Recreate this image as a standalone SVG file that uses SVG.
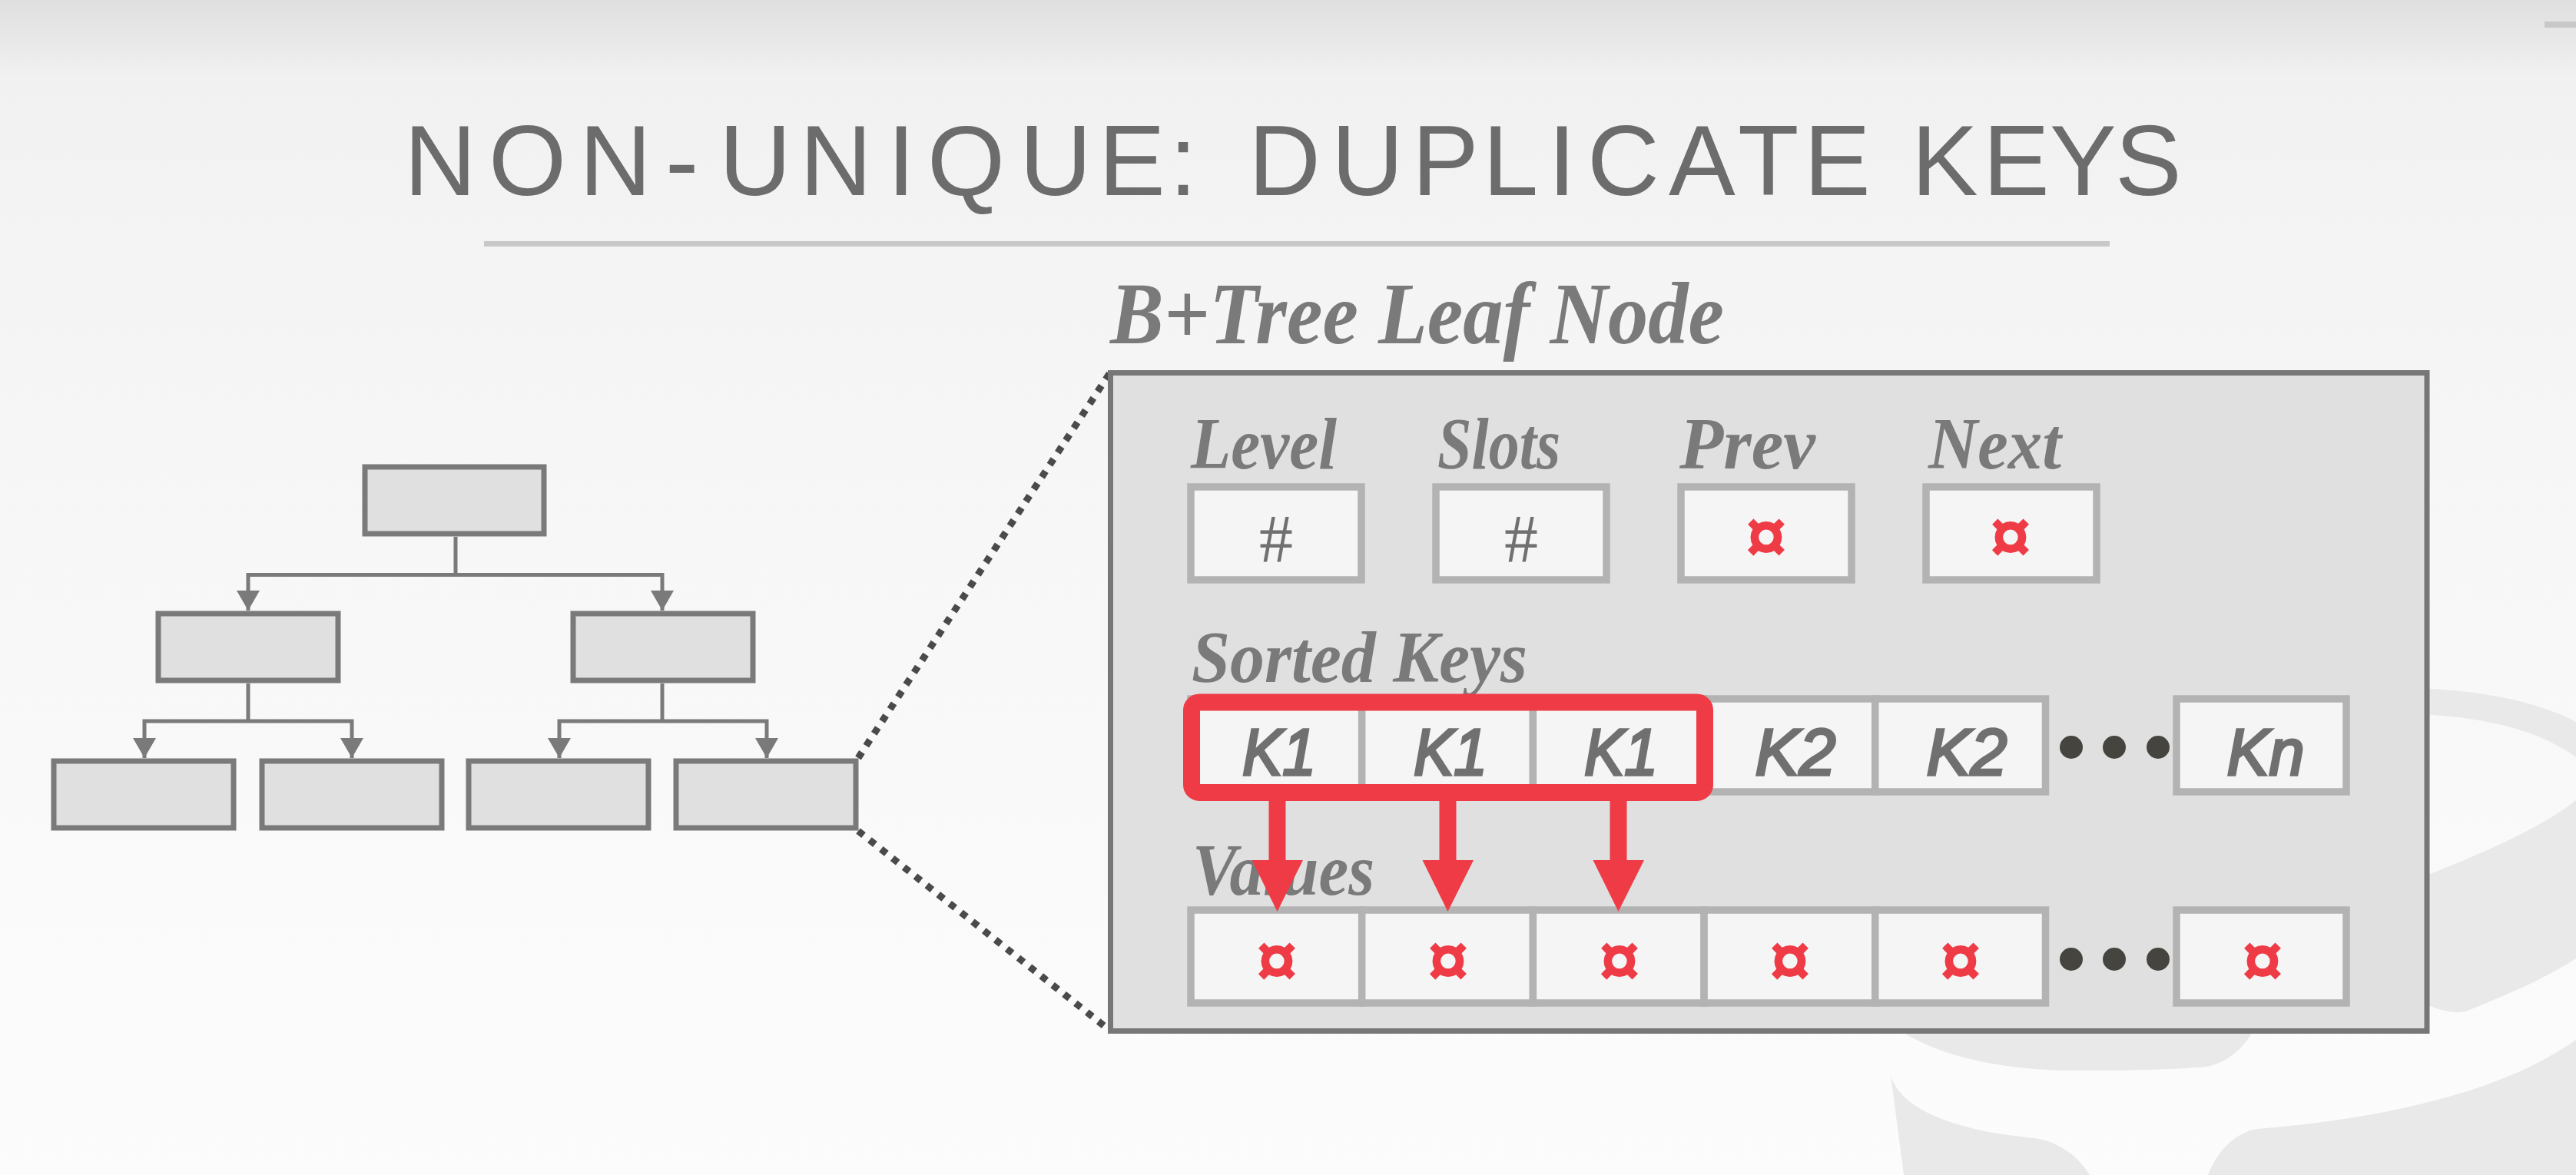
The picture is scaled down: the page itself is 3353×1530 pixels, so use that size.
<svg xmlns="http://www.w3.org/2000/svg" width="3353" height="1530" viewBox="0 0 3353 1530">
  <style>
    .title { font: 130px "Liberation Sans", Arial, sans-serif; fill: #6c6c6c; }
    .head { font: italic bold 95px "Liberation Serif", "Times New Roman", serif; fill: #7a7a7a; }
    .key { font: italic 85px "Liberation Sans", Arial, sans-serif; fill: #707070; stroke: #707070; stroke-width: 3.500; text-anchor: middle; }
    .num { font: 88px "Liberation Serif", "Times New Roman", serif; fill: #707070; text-anchor: middle; }
    .ptr { font: bold 96px "Liberation Sans", Arial, sans-serif; fill: #ef3b46; text-anchor: middle; }
    .tree { fill: #e0e0e0; stroke: #7a7a7a; stroke-width: 7; }
    .cell { fill: #f5f5f5; stroke: #b3b3b3; stroke-width: 9.500; }
    .wire { fill: none; stroke: #7a7a7a; stroke-width: 5; }
    .dots { fill: none; stroke: #4a4a4a; stroke-width: 9; stroke-dasharray: 9 10; }
    .mark { fill: #e9e9e9; }
    .red { fill: #ef3b46; }
    .ell { fill: #45443e; }
  </style>
  <defs>
    <linearGradient id="bg" x1="0" y1="0" x2="0" y2="1">
      <stop offset="0" stop-color="#dfdfdf"/>
      <stop offset="0.066" stop-color="#f1f1f1"/>
      <stop offset="0.35" stop-color="#f6f6f6"/>
      <stop offset="1" stop-color="#fcfcfc"/>
    </linearGradient>
    <marker id="tip" markerUnits="userSpaceOnUse" markerWidth="26" markerHeight="30" refX="26" refY="15" orient="auto" viewBox="0 0 26 30">
      <path d="M0 0L26 15L0 30Z" fill="#7a7a7a"/>
    </marker>
  </defs>

  <rect width="3353" height="1530" fill="url(#bg)"/>

  <!-- faint database emblem behind the slide content -->
  <g id="emblem">
    <path class="mark" d="M3150 896C3230 900 3300 912 3353 940V986C3300 948 3230 934 3150 930Z"/>
    <path class="mark" d="M3150 1144L3163 1138C3240 1108 3310 1076 3353 1042V1248C3310 1276 3260 1296 3217 1314C3205 1320 3190 1320 3163 1310L3150 1304Z"/>
    <path class="mark" d="M2470 1340C2530 1380 2620 1394 2703 1394C2760 1394 2830 1393 2871 1389C2900 1384 2920 1365 2934 1340Z"/>
    <path class="mark" d="M2461 1400C2475 1450 2560 1474 2649 1482C2685 1488 2708 1510 2720 1530H2478Z"/>
    <path class="mark" d="M2874 1530C2885 1500 2910 1474 2938 1470C3110 1456 3260 1420 3353 1354V1530Z"/>
  </g>

  <g id="title">
    <text class="title" y="254" x="526 636 754 866 936 1041 1155 1207 1327 1430 1522 1600 1625 1733 1838 1930 2015 2066 2172 2262 2348 2450 2488 2581 2668 2753">NON-UNIQUE: DUPLICATE KEYS</text>
    <rect x="630" y="314" width="2116" height="7" fill="#c8c8c8"/>
  </g>
  <rect id="corner-rule" x="3312" y="28" width="41" height="8" fill="#c8c8c8"/>

  <g id="node-root"><rect class="tree" x="475" y="608" width="233" height="87"/></g>
  <g id="node-mid-left"><rect class="tree" x="206" y="799" width="234" height="87"/></g>
  <g id="node-mid-right"><rect class="tree" x="746" y="799" width="234" height="87"/></g>
  <g id="node-leaf-1"><rect class="tree" x="70" y="991" width="234" height="87"/></g>
  <g id="node-leaf-2"><rect class="tree" x="341" y="991" width="234" height="87"/></g>
  <g id="node-leaf-3"><rect class="tree" x="610" y="991" width="234" height="87"/></g>
  <g id="node-leaf-4"><rect class="tree" x="880" y="991" width="234" height="87"/></g>

  <g id="connectors">
    <path class="wire" d="M593 699V748.500"/>
    <path class="wire" d="M593 748.500H323V795" marker-end="url(#tip)"/>
    <path class="wire" d="M593 748.500H862V795" marker-end="url(#tip)"/>
    <path class="wire" d="M323 890V939"/>
    <path class="wire" d="M323 939H188V987" marker-end="url(#tip)"/>
    <path class="wire" d="M323 939H458V987" marker-end="url(#tip)"/>
    <path class="wire" d="M862 890V939"/>
    <path class="wire" d="M862 939H728V987" marker-end="url(#tip)"/>
    <path class="wire" d="M862 939H998V987" marker-end="url(#tip)"/>
    <path class="dots" d="M1117 987L1445 485"/>
    <path class="dots" d="M1117 1082L1445 1342"/>
  </g>

  <g id="leaf-detail">
    <rect x="1445.500" y="485.500" width="1713.500" height="857" fill="#e0e0e0" stroke="#777777" stroke-width="7"/>
    <text class="head" x="1445" y="447" textLength="799" lengthAdjust="spacingAndGlyphs" style="font-size:115px">B+Tree Leaf Node</text>
  </g>

  <g id="field-level">
    <text class="head" x="1550" y="610" textLength="190" lengthAdjust="spacingAndGlyphs">Level</text>
    <rect class="cell" x="1550" y="634" width="222" height="121"/>
    <text class="num" x="1661" y="731">#</text>
  </g>
  <g id="field-slots">
    <text class="head" x="1871" y="610" textLength="160" lengthAdjust="spacingAndGlyphs">Slots</text>
    <rect class="cell" x="1869" y="634" width="222" height="121"/>
    <text class="num" x="1980" y="731">#</text>
  </g>
  <g id="field-prev">
    <text class="head" x="2186" y="610" textLength="177" lengthAdjust="spacingAndGlyphs">Prev</text>
    <rect class="cell" x="2188" y="634" width="222" height="121"/>
    <text class="ptr" x="2299" y="732">¤</text>
  </g>
  <g id="field-next">
    <text class="head" x="2510" y="610" textLength="173" lengthAdjust="spacingAndGlyphs">Next</text>
    <rect class="cell" x="2507" y="634" width="222" height="121"/>
    <text class="ptr" x="2617" y="732">¤</text>
  </g>

  <g id="sorted-keys">
    <text class="head" x="1551" y="888" textLength="437" lengthAdjust="spacingAndGlyphs">Sorted Keys</text>
    <rect class="cell" x="1550" y="910" width="222.700" height="121"/>
    <rect class="cell" x="1772.700" y="910" width="222.700" height="121"/>
    <rect class="cell" x="1995.400" y="910" width="222.700" height="121"/>
    <rect class="cell" x="2218.100" y="910" width="222.700" height="121"/>
    <rect class="cell" x="2440.800" y="910" width="221.700" height="121"/>
    <rect class="cell" x="2833" y="910" width="221" height="121"/>
    <text class="key" x="1665" y="1009" textLength="96" lengthAdjust="spacingAndGlyphs">K1</text>
    <text class="key" x="1888" y="1009" textLength="96" lengthAdjust="spacingAndGlyphs">K1</text>
    <text class="key" x="2110" y="1009" textLength="96" lengthAdjust="spacingAndGlyphs">K1</text>
    <text class="key" x="2337" y="1009" textLength="105" lengthAdjust="spacingAndGlyphs">K2</text>
    <text class="key" x="2560" y="1009" textLength="105" lengthAdjust="spacingAndGlyphs">K2</text>
    <text class="key" x="2949" y="1009" textLength="101" lengthAdjust="spacingAndGlyphs">Kn</text>
    <circle class="ell" cx="2696" cy="973" r="15"/>
    <circle class="ell" cx="2752" cy="973" r="15"/>
    <circle class="ell" cx="2809" cy="973" r="15"/>
  </g>

  <g id="values">
    <text class="head" x="1552" y="1165" textLength="237" lengthAdjust="spacingAndGlyphs">Values</text>
    <rect class="cell" x="1550" y="1185" width="222.700" height="121"/>
    <rect class="cell" x="1772.700" y="1185" width="222.700" height="121"/>
    <rect class="cell" x="1995.400" y="1185" width="222.700" height="121"/>
    <rect class="cell" x="2218.100" y="1185" width="222.700" height="121"/>
    <rect class="cell" x="2440.800" y="1185" width="221.700" height="121"/>
    <rect class="cell" x="2833" y="1185" width="221" height="121"/>
    <text class="ptr" x="1662" y="1284">¤</text>
    <text class="ptr" x="1885" y="1284">¤</text>
    <text class="ptr" x="2108" y="1284">¤</text>
    <text class="ptr" x="2330" y="1284">¤</text>
    <text class="ptr" x="2552" y="1284">¤</text>
    <text class="ptr" x="2945" y="1284">¤</text>
    <circle class="ell" cx="2696" cy="1249" r="15"/>
    <circle class="ell" cx="2752" cy="1249" r="15"/>
    <circle class="ell" cx="2809" cy="1249" r="15"/>
  </g>

  <g id="key-highlight">
    <rect x="1551" y="914.500" width="668" height="117.500" rx="10" fill="none" stroke="#ef3b46" stroke-width="22"/>
    <path class="red" d="M1651.500 1040H1673.500V1120H1696L1662.500 1187L1629.500 1120H1651.500Z"/>
    <path class="red" d="M1873.500 1040H1895.500V1120H1918L1884.500 1187L1851.500 1120H1873.500Z"/>
    <path class="red" d="M2095.500 1040H2117.500V1120H2140L2106.500 1187L2073.500 1120H2095.500Z"/>
  </g>
</svg>
